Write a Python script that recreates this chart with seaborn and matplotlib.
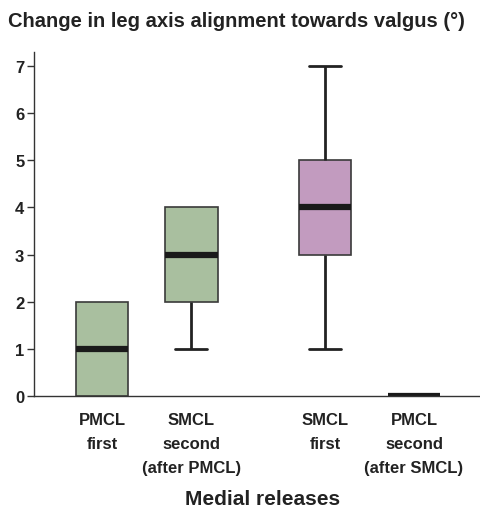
import matplotlib
matplotlib.use("Agg")
import matplotlib.pyplot as plt
import pandas as pd
import seaborn as sns

# ── data ──────────────────────────────────────────────────────────────────
GROUPS = [
    "PMCL\nfirst",
    "SMCL\nsecond\n(after PMCL)",
    "SMCL\nfirst",
    "PMCL\nsecond\n(after SMCL)",
]
POSITIONS = [0, 1, 2.5, 3.5]  # gap between the two release orders

# five-number summaries: low whisker, Q1, median, Q3, high whisker
PMCL_FIRST = [0, 0, 1, 2, 2]
SMCL_SECOND = [1, 2, 3, 4, 4]
SMCL_FIRST = [1, 3, 4, 5, 7]
PMCL_SECOND = [0, 0, 0, 0, 0]

Y_TICKS = [0, 1, 2, 3, 4, 5, 6, 7]
COLORS = ["#a7c49a", "#a7c49a", "#c994c5", "#a7c49a"]

TITLE = "Change in leg axis alignment towards valgus (°)"
XLABEL = "Medial releases"

CAP_W = 0.36


def _hide_empty_whiskers(ax) -> None:
    """Drop whiskers of zero length and their caps (as in the reference)."""
    empty = set()
    for ln in ax.lines:
        x, y = ln.get_xdata(), ln.get_ydata()
        if len(x) == 2 and x[0] == x[1] and y[0] == y[1]:
            empty.add((round(float(x[0]), 3), round(float(y[0]), 3)))
            ln.set_visible(False)
    for ln in ax.lines:
        x, y = ln.get_xdata(), ln.get_ydata()
        if len(x) == 2 and y[0] == y[1] and abs(abs(x[1] - x[0]) - CAP_W) < 1e-6:
            key = (round(float((x[0] + x[1]) / 2), 3), round(float(y[0]), 3))
            if key in empty:
                ln.set_visible(False)


def main() -> None:
    sns.set_theme(style="white")
    plt.rcParams["font.family"] = ["Liberation Sans", "DejaVu Sans"]

    values = [PMCL_FIRST, SMCL_SECOND, SMCL_FIRST, PMCL_SECOND]
    df = pd.DataFrame(
        [{"group": g, "pos": p, "value": v}
         for g, p, vals in zip(GROUPS, POSITIONS, values) for v in vals]
    )

    fig = plt.figure(figsize=(4.8, 5.1), dpi=100)
    ax = fig.add_axes([0.071, 0.222, 0.929, 0.674])

    sns.boxplot(
        data=df, x="pos", y="value", hue="group",
        palette=dict(zip(GROUPS, COLORS)), native_scale=True,
        width=0.59, whis=1.5, legend=False, ax=ax,
        linecolor="#222222", linewidth=1.2,
        boxprops={"edgecolor": "#3a3a3a", "linewidth": 1.2},
        medianprops={"color": "#1a1a1a", "linewidth": 4.5},
        whiskerprops={"color": "#222222", "linewidth": 2},
        capprops={"color": "#222222", "linewidth": 2},
        capwidths=CAP_W,
    )
    _hide_empty_whiskers(ax)

    ax.set_xlim(-0.764, 4.24)
    ax.set_ylim(0, 7.3)
    ax.set_xticks(POSITIONS, GROUPS)
    ax.set_yticks(Y_TICKS, [str(t) for t in Y_TICKS])
    ax.set_xlabel("")
    ax.set_ylabel("")
    for lab in ax.get_xticklabels() + ax.get_yticklabels():
        lab.set_fontweight("bold")
        lab.set_color("#222222")
    for lab in ax.get_xticklabels():
        lab.set_linespacing(1.75)
    ax.tick_params(axis="x", length=0, pad=12, labelsize=12)
    ax.tick_params(axis="y", left=True, length=5, width=1, color="#333333",
                   pad=2, labelsize=12)

    sns.despine(ax=ax)
    for side in ("left", "bottom"):
        ax.spines[side].set_color("#333333")
        ax.spines[side].set_linewidth(1)

    fig.text(0.017, 0.957, TITLE, ha="left", va="center",
             fontsize=14.5, fontweight="bold", color="#222222")
    fig.text(0.546, 0.020, XLABEL, ha="center", va="center",
             fontsize=15, fontweight="bold", color="#222222")

    fig.savefig("out.png", dpi=100)
    plt.close(fig)


if __name__ == "__main__":
    main()
